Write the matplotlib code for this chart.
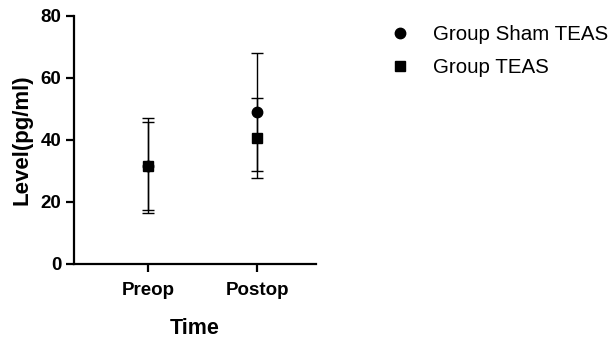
import matplotlib.pyplot as plt
import numpy as np

plt.rcParams['font.family'] = ['Liberation Sans', 'DejaVu Sans']

times = ["Preop", "Postop"]
sham_mean = [31.7, 49.0]
sham_sd = [15.3, 19.0]
teas_mean = [31.6, 40.6]
teas_sd = [14.2, 12.8]


def main() -> None:
    fig = plt.figure(figsize=(6.14, 3.39), dpi=100)
    ax = fig.add_axes([74 / 614, 1 - 264 / 339, (316 - 74) / 614, (264 - 16) / 339])
    x = np.arange(len(times))

    ax.errorbar(x, sham_mean, yerr=sham_sd, fmt="o", color="black", ms=7.5,
                capsize=4.5, elinewidth=1, capthick=1, label="Group Sham TEAS")
    ax.errorbar(x, teas_mean, yerr=teas_sd, fmt="s", color="black", ms=7.5,
                capsize=4.5, elinewidth=1, capthick=1, label="Group TEAS")

    ax.set_xlim(-0.68, 1.54)
    ax.set_ylim(0, 80)
    ax.set_yticks([0, 20, 40, 60, 80])
    ax.set_xticks(x)
    ax.set_xticklabels(times)
    for s in ["top", "right"]:
        ax.spines[s].set_visible(False)
    for s in ["left", "bottom"]:
        ax.spines[s].set_linewidth(1.6)
    ax.tick_params(width=1.6, length=6, labelsize=13.5, pad=3)
    ax.tick_params(axis="x", pad=7)
    for lab in ax.get_xticklabels() + ax.get_yticklabels():
        lab.set_fontweight("bold")
    ax.set_xlabel("Time", fontsize=15.5, fontweight="bold", labelpad=14)
    ax.set_ylabel("Level(pg/ml)", fontsize=16, fontweight="bold", labelpad=6)

    h, l = ax.get_legend_handles_labels()
    h = [hh[0] for hh in h]
    fig.legend(h, l, loc="upper left", bbox_to_anchor=(369 / 614, 1 - 7 / 339),
               frameon=False, fontsize=14.8, handletextpad=1.0, labelspacing=0.65,
               handlelength=1.2)
    fig.savefig("out.png")


if __name__ == "__main__":
    main()
